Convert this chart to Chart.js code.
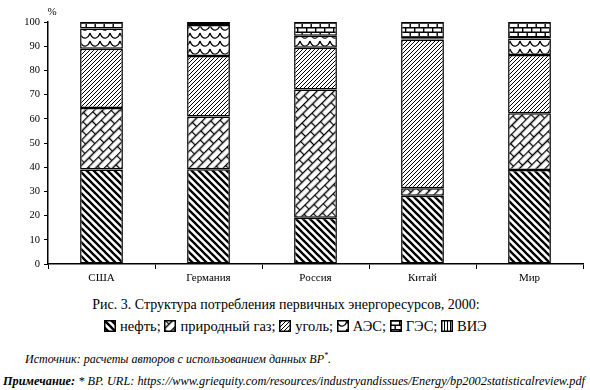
<!DOCTYPE html>
<html><head><meta charset="utf-8">
<script src="https://cdn.jsdelivr.net/npm/chart.js@4"></script>
<style>
body{margin:0;background:#fff;width:590px;height:390px;overflow:hidden;font-family:"Liberation Serif","Times New Roman",serif;color:#000;position:relative}
#wrap{position:absolute;left:0;top:0;width:590px;height:290px}
.cap{position:absolute;font-size:14px;white-space:nowrap}
.ic{display:inline-block;width:12px;height:12px;vertical-align:-1px;margin-right:4px}
#src{position:absolute;left:25px;top:351px;font-size:12px;font-style:italic;white-space:nowrap}
#note{position:absolute;left:3px;top:374px;font-size:12.3px;font-style:italic;white-space:nowrap}
</style></head><body>
<div id="wrap"><canvas id="c" width="590" height="290"></canvas></div>
<div class="cap" style="top:297px;left:0;width:572px;text-align:center">Рис. 3. Структура потребления первичных энергоресурсов, 2000:</div>
<div class="cap" style="top:318px;left:104px;font-size:14.5px"><canvas class="ic" id="i0" width="12" height="12"></canvas>нефть; <canvas class="ic" id="i1" width="12" height="12"></canvas>природный газ; <canvas class="ic" id="i2" width="12" height="12"></canvas>уголь; <canvas class="ic" id="i3" width="12" height="12"></canvas>АЭС; <canvas class="ic" id="i4" width="12" height="12"></canvas>ГЭС; <canvas class="ic" id="i5" width="12" height="12"></canvas>ВИЭ</div>
<div id="src">Источник: расчеты авторов с использованием данных BP<sup style="font-size:8px">*</sup>.</div>
<div id="note"><b>Примечание:</b> * BP. URL: https://www.griequity.com/resources/industryandissues/Energy/bp2002statisticalreview.pdf</div>
<script>
const categories = ["США","Германия","Россия","Китай","Мир"];
const seriesNames = ["нефть","природный газ","уголь","АЭС","ГЭС","ВИЭ"];
const oil     = [39.1, 39.2, 19.1, 28.2, 38.8];
const gas     = [25.4, 21.8, 53.0,  3.1, 23.5];
const coal    = [24.4, 25.0, 17.3, 61.5, 24.1];
const nuclear = [ 8.4, 12.8,  4.9,  0.5,  6.8];
const hydro   = [ 2.7,  1.2,  5.7,  6.7,  6.8];
const renew   = [ 0.0,  0.0,  0.0,  0.0,  0.0];
const yTicks  = [0,10,20,30,40,50,60,70,80,90,100];

const FONT = 'Liberation Serif';
const mainCtx = document.getElementById('c').getContext('2d');
function makePattern(ctx, w, h, draw, matrix){
  const c = document.createElement('canvas'); c.width = w; c.height = h;
  const g = c.getContext('2d');
  g.fillStyle = '#fff'; g.fillRect(0,0,w,h);
  g.strokeStyle = '#000'; g.lineCap = 'butt';
  draw(g);
  const p = ctx.createPattern(c, 'repeat');
  if (matrix) p.setTransform(matrix);
  return p;
}
function drawers(){
  return [
    [7,7,g=>{g.lineWidth=2.3;g.beginPath();
      g.moveTo(-2,-2);g.lineTo(9,9);g.moveTo(-2,5);g.lineTo(2,9);g.moveTo(5,-2);g.lineTo(9,2);g.stroke();}, null],
    [14,12,g=>{g.lineWidth=1.3;g.beginPath();
      g.moveTo(0,0.5);g.lineTo(14,0.5);g.moveTo(0,6.5);g.lineTo(14,6.5);
      g.moveTo(0.5,0);g.lineTo(0.5,6.5);g.moveTo(7.5,6.5);g.lineTo(7.5,12);g.stroke();}, 'rot'],
    [4,4,g=>{g.lineWidth=1;g.beginPath();
      g.moveTo(-1,5);g.lineTo(5,-1);g.moveTo(-1,1);g.lineTo(1,-1);g.moveTo(3,5);g.lineTo(5,3);g.stroke();}, null],
    [10,8,g=>{g.lineWidth=1.2;g.beginPath();
      g.moveTo(0,1);g.quadraticCurveTo(2,7,6,6);g.quadraticCurveTo(9,5,10,1);g.stroke();}, null],
    [9,9,g=>{g.lineWidth=1.4;g.beginPath();
      g.moveTo(0,0.7);g.lineTo(9,0.7);g.moveTo(0,5.2);g.lineTo(9,5.2);
      g.moveTo(0.7,0);g.lineTo(0.7,5.2);g.moveTo(5.2,5.2);g.lineTo(5.2,9);g.stroke();}, null],
    [3,3,g=>{g.lineWidth=1;g.beginPath();g.moveTo(0.5,0);g.lineTo(0.5,3);g.stroke();}, null]
  ];
}
function patterns(ctx){
  return drawers().map(([w,h,d,t])=>makePattern(ctx,w,h,d,t==='rot'?new DOMMatrix().rotate(-45):null));
}
const values = [oil,gas,coal,nuclear,hydro,renew];

for (let i=0;i<6;i++){
  const cv = document.getElementById('i'+i); const g = cv.getContext('2d');
  const p = patterns(g)[i];
  g.fillStyle = p; g.fillRect(0,0,12,12);
  g.strokeStyle='#000'; g.lineWidth=1.5; g.strokeRect(0.75,0.75,10.5,10.5);
}

const percentPlugin = {
  id:'pct',
  afterDraw(chart){
    const c = chart.ctx; c.save();
    c.font = '11px "'+FONT+'"'; c.fillStyle='#000'; c.textAlign='center'; c.textBaseline='middle';
    c.fillText('%', chart.chartArea.left+4, 12);
    c.restore();
  }
};

function build(){
  const pats = patterns(mainCtx);
  new Chart(mainCtx, {
    type:'bar',
    data:{
      labels: categories,
      datasets: seriesNames.map((n,i)=>({
        label:n, data:values[i], backgroundColor:pats[i], borderColor:'#000', borderWidth:1.5,
        borderSkipped:false, barPercentage:0.4, categoryPercentage:1
      }))
    },
    options:{
      responsive:false, animation:false, devicePixelRatio:1,
      layout:{padding:{left:0,right:7,top:22,bottom:0}},
      plugins:{legend:{display:false}, tooltip:{enabled:false}},
      scales:{
        x:{stacked:true, offset:true,
          grid:{display:true, drawOnChartArea:false, drawTicks:true, tickLength:5, color:'#000', lineWidth:1, offset:true},
          border:{display:true,color:'#000',width:1.5},
          ticks:{color:'#000', font:{family:FONT, size:11}, padding:3, maxRotation:0},
          afterFit:s=>{s.height=26;}
        },
        y:{stacked:true, min:0, max:100,
          afterBuildTicks:s=>{s.ticks = yTicks.map(v=>({value:v}));},
          grid:{display:true, drawOnChartArea:false, drawTicks:true, tickLength:4, color:'#000', lineWidth:1},
          border:{display:true,color:'#000',width:1.5},
          ticks:{color:'#000', font:{family:FONT, size:10.5}, padding:4},
          afterFit:s=>{s.width=48;}
        }
      }
    },
    plugins:[percentPlugin]
  });
}
Promise.all([document.fonts.load('11px "'+FONT+'"'), document.fonts.load('italic 12px "'+FONT+'"')]).then(build, build);
</script>
</body></html>
